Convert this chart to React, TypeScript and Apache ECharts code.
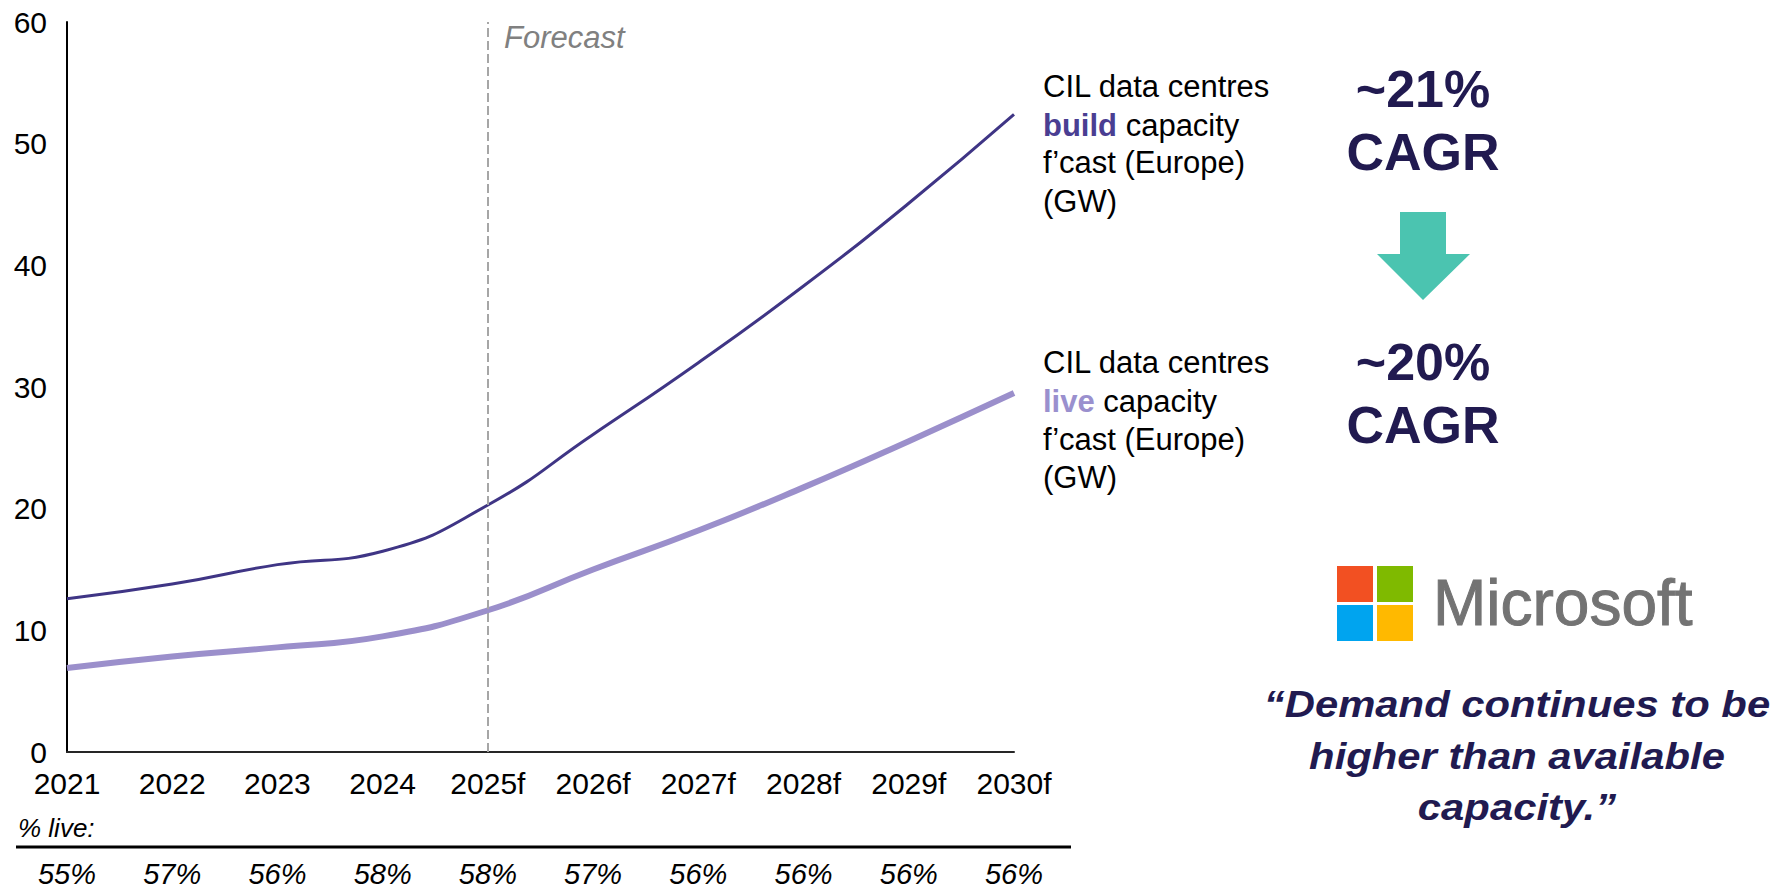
import React, { useEffect, useRef } from "react";
import * as echarts from "echarts";

// Years on the horizontal axis (forecast years carry an "f")
const years = ["2021", "2022", "2023", "2024", "2025f", "2026f", "2027f", "2028f", "2029f", "2030f"];
// CIL data centres build capacity, Europe (GW)
const buildCapacity = [12.6, 13.8, 15.4, 16.5, 20.3, 26.1, 32.0, 38.3, 45.1, 52.4];
// CIL data centres live capacity, Europe (GW)
const liveCapacity = [6.9, 7.85, 8.6, 9.5, 11.65, 15.0, 18.2, 21.75, 25.55, 29.5];
// Share of build capacity that is live, per year
const liveShare = ["55%", "57%", "56%", "58%", "58%", "57%", "56%", "56%", "56%", "56%"];
// Value axis range
const yMin = 0;
const yMax = 60;
const yStep = 10;

const FONT = "'Liberation Sans', Arial, Helvetica, sans-serif";
const BUILD_COLOR = "#3F3585";
const LIVE_COLOR = "#9B8FCB";
const NAVY = "#211A50";

function textEl(x: number, y: number, text: string, style: any, extra: any = {}) {
  return {
    type: "text",
    x,
    y,
    silent: true,
    ...extra,
    style: {
      text,
      fontFamily: FONT,
      fontSize: 31,
      fill: "#000",
      align: "left",
      verticalAlign: "middle",
      textAlign: "left",
      textVerticalAlign: "middle",
      ...style,
    },
  };
}

export default function App() {
  const ref = useRef<HTMLDivElement>(null);

  useEffect(() => {
    if (!ref.current) return;
    const chart = echarts.init(ref.current, null, { renderer: "svg" });

    const richBuild = {
      k: { fontFamily: FONT, fontSize: 31, fontWeight: "bold", fill: "#4A3E92" },
      n: { fontFamily: FONT, fontSize: 31, fill: "#000" },
    };
    const richLive = {
      k: { fontFamily: FONT, fontSize: 31, fontWeight: "bold", fill: "#9A90CE" },
      n: { fontFamily: FONT, fontSize: 31, fill: "#000" },
    };

    const cagr = (x: number, y: number, t: string) =>
      textEl(x, y, t, { fontSize: 52, fontWeight: "bold", fill: NAVY, align: "center", textAlign: "center" });

    const quote = (y: number, t: string) =>
      textEl(1517, y, t, {
        fontSize: 37,
        fontWeight: "bold",
        fontStyle: "italic",
        fill: NAVY,
        align: "center",
        textAlign: "center",
      }, { scaleX: 1.13 });

    const option: any = {
      animation: false,
      backgroundColor: "#fff",
      textStyle: { fontFamily: FONT },
      grid: { left: 67, right: 770, top: 22, bottom: 136, containLabel: false, outerBoundsMode: "none" },
      xAxis: [
        {
          type: "category",
          data: years,
          boundaryGap: false,
          axisLine: { show: true, lineStyle: { color: "#262626", width: 2 } },
          axisTick: { show: false },
          axisLabel: { color: "#000", fontSize: 30, fontFamily: FONT, margin: 16, interval: 0 },
          splitLine: { show: false },
        },
        {
          type: "category",
          data: liveShare,
          boundaryGap: false,
          position: "bottom",
          offset: 97,
          axisLine: { show: false },
          axisTick: { show: false },
          axisLabel: {
            color: "#000",
            fontSize: 29,
            lineHeight: 29,
            fontStyle: "italic",
            fontFamily: FONT,
            margin: 10,
            interval: 0,
          },
          splitLine: { show: false },
        },
      ],
      yAxis: {
        type: "value",
        min: yMin,
        max: yMax,
        interval: yStep,
        axisLine: { show: true, lineStyle: { color: "#000", width: 2 } },
        axisTick: { show: false },
        splitLine: { show: false },
        axisLabel: { color: "#000", fontSize: 30, fontFamily: FONT, margin: 20 },
      },
      series: [
        {
          name: "build",
          type: "line",
          data: buildCapacity,
          smooth: true,
          symbol: "none",
          lineStyle: { color: BUILD_COLOR, width: 3 },
          z: 3,
          markLine: {
            silent: true,
            symbol: ["none", "none"],
            label: { show: false },
            lineStyle: { color: "#A6A6A6", type: [9, 4], width: 2 },
            data: [{ xAxis: "2025f" }],
          },
        },
        {
          name: "live",
          type: "line",
          data: liveCapacity,
          smooth: true,
          symbol: "none",
          lineStyle: { color: LIVE_COLOR, width: 6 },
          z: 2,
        },
      ],
      graphic: [
        textEl(504, 37, "Forecast", { fontStyle: "italic", fill: "#808080", fontSize: 31 }),

        textEl(1043, 86, "CIL data centres", {}),
        textEl(1043, 125, "{k|build}{n| capacity}", { rich: richBuild }),
        textEl(1043, 162, "f\u2019cast (Europe)", {}),
        textEl(1043, 201, "(GW)", {}),

        textEl(1043, 362, "CIL data centres", {}),
        textEl(1043, 401, "{k|live}{n| capacity}", { rich: richLive }),
        textEl(1043, 439, "f\u2019cast (Europe)", {}),
        textEl(1043, 477, "(GW)", {}),

        cagr(1423, 89, "~21%"),
        cagr(1423, 152, "CAGR"),
        cagr(1423, 362, "~20%"),
        cagr(1423, 425, "CAGR"),

        {
          type: "polygon",
          silent: true,
          shape: {
            points: [
              [1400, 212],
              [1446, 212],
              [1446, 254],
              [1470, 254],
              [1423, 300],
              [1377, 254],
              [1400, 254],
            ],
          },
          style: { fill: "#4BC4B0" },
        },

        // Four-pane logo mark
        { type: "rect", silent: true, shape: { x: 1337, y: 566, width: 36, height: 36 }, style: { fill: "#F25022" } },
        { type: "rect", silent: true, shape: { x: 1377, y: 566, width: 36, height: 36 }, style: { fill: "#7FBA00" } },
        { type: "rect", silent: true, shape: { x: 1337, y: 605, width: 36, height: 36 }, style: { fill: "#00A4EF" } },
        { type: "rect", silent: true, shape: { x: 1377, y: 605, width: 36, height: 36 }, style: { fill: "#FFB900" } },
        textEl(1433, 603, "Microsoft", { fontSize: 64, fill: "#737373", stroke: "#737373", lineWidth: 1 }),

        quote(704, "\u201CDemand continues to be"),
        quote(756, "higher than available"),
        quote(807, "capacity.\u201D"),

        textEl(18, 828, "% live:", { fontSize: 26, fontStyle: "italic" }),
        {
          type: "line",
          silent: true,
          shape: { x1: 16, y1: 847, x2: 1071, y2: 847 },
          style: { stroke: "#000", lineWidth: 3 },
        },
      ],
    };

    chart.setOption(option);
    return () => chart.dispose();
  }, []);

  return (
    <div
      ref={ref}
      style={{ position: "absolute", left: 0, top: 0, width: 1784, height: 888, background: "#fff" }}
    />
  );
}
